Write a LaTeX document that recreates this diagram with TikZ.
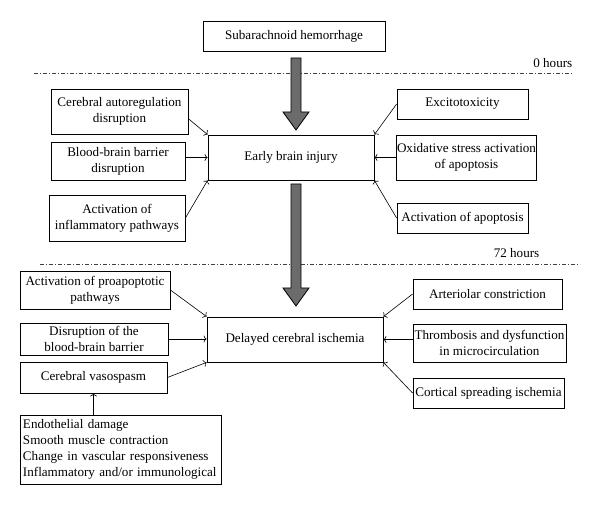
\documentclass[tikz,border=0pt]{standalone}
\usepackage{fontspec}
\setmainfont{Liberation Serif}
\usetikzlibrary{arrows.meta}

\begin{document}
\begin{tikzpicture}
[every node/.style={inner sep=0.5pt, font=\fontsize{13.1}{16.2}\selectfont},
 >={To[length=3pt, width=7pt]},
 factor/.style={rectangle, draw=black, line width=0.8pt, align=center},
 link/.style={line width=0.6pt, ->, color=black},
 timeline/.style={line width=0.7pt, color=black!75, dash pattern=on 4pt off 2pt on 1pt off 2pt},
 bigarrow/.style={fill=black!58, draw=black, line width=0.8pt}]
\useasboundingbox (0pt, 0pt) rectangle (600pt, -505pt);
% time marks
\coordinate (t0a) at (34pt, -73pt);
\coordinate (t0b) at (573pt, -73pt);
\coordinate (t72a) at (40pt, -264pt);
\coordinate (t72b) at (580pt, -264pt);
\draw [timeline] (t0a) -- (t0b);
\draw [timeline] (t72a) -- (t72b);
\node (h0) [anchor=base east] at (573pt, -68pt) {0 hours};
\node (h72) [anchor=base east] at (540pt, -258pt) {72 hours};
% stages
\node (sah) [factor, minimum width=182pt, minimum height=30pt] at (294pt, -36pt) {Subarachnoid hemorrhage};
\node (ebi) [factor, minimum width=166pt, minimum height=45pt] at (291pt, -157.5pt) {Early brain injury};
\node (dci) [factor, minimum width=176pt, minimum height=45pt] at (295pt, -339.5pt) {Delayed cerebral ischemia};
% early brain injury factors
\node (auto) [factor, minimum width=137pt, minimum height=45pt] at (119.5pt, -111.5pt) {Cerebral autoregulation\\disruption};
\node (bbb) [factor, minimum width=134pt, minimum height=38pt] at (118pt, -161pt) {Blood-brain barrier\\disruption};
\node (infl) [factor, minimum width=136pt, minimum height=46pt] at (117pt, -218pt) {Activation of\\inflammatory pathways};
\node (excito) [factor, minimum width=131pt, minimum height=30pt] at (462.5pt, -104pt) {Excitotoxicity};
\node (oxid) [factor, minimum width=139pt, minimum height=45pt] at (466.5pt, -157.5pt) {Oxidative stress activation\\of apoptosis};
\node (apop) [factor, minimum width=131pt, minimum height=30pt] at (462.5pt, -218pt) {Activation of apoptosis};
% delayed cerebral ischemia factors
\node (proap) [factor, minimum width=150pt, minimum height=38pt] at (95pt, -290pt) {Activation of proapoptotic\\pathways};
\node (disr) [factor, minimum width=148pt, minimum height=32pt] at (94pt, -339pt) {Disruption of the\\blood-brain barrier};
\node (vaso) [factor, minimum width=147pt, minimum height=31pt] at (93.5pt, -377.5pt) {Cerebral vasospasm};
\node (art) [factor, minimum width=149pt, minimum height=30pt] at (487.5pt, -294pt) {Arteriolar constriction};
\node (thromb) [factor, minimum width=153pt, minimum height=38pt] at (489.5pt, -343pt) {Thrombosis and dysfunction\\in microcirculation};
\node (cort) [factor, minimum width=151pt, minimum height=30pt] at (488.5pt, -393pt) {Cortical spreading ischemia};
\node (mech) [factor, align=left, text width=195pt, inner sep=3pt, minimum height=69pt] at (120.5pt, -449.5pt) {Endothelial damage\\Smooth muscle contraction\\Change in vascular responsiveness\\Inflammatory and/or immunological};
% big arrows
\filldraw [bigarrow] (291pt, -58pt) -- (301pt, -58pt) -- (301pt, -112pt) -- (309pt, -112pt) -- (296pt, -130pt) -- (283pt, -112pt) -- (291pt, -112pt) -- cycle;
\filldraw [bigarrow] (291pt, -184pt) -- (301pt, -184pt) -- (301pt, -288pt) -- (309pt, -288pt) -- (296pt, -306pt) -- (283pt, -288pt) -- (291pt, -288pt) -- cycle;
% links
\draw [link] (auto.-6) to (ebi.north west);
\draw [link] (ebi.west -| bbb.east) to (ebi.west);
\draw [link] (infl.east) to (ebi.south west);
\draw [link] (excito.west) to (ebi.north east);
\draw [link] (oxid.west) to (ebi.east);
\draw [link] (apop.west) to (ebi.south east);
\draw [link] (proap.east) to (dci.north west);
\draw [link] (disr.east) to (disr.east -| dci.west);
\draw [link] (vaso.east) to (dci.south west);
\draw [link] (art.west) to (dci.north east);
\draw [link] (dci.east -| thromb.west) to (dci.east);
\draw [link] (cort.west) to (dci.south east);
\draw [link] (vaso.south |- mech.north) to (vaso.south);
\end{tikzpicture}
\end{document}
